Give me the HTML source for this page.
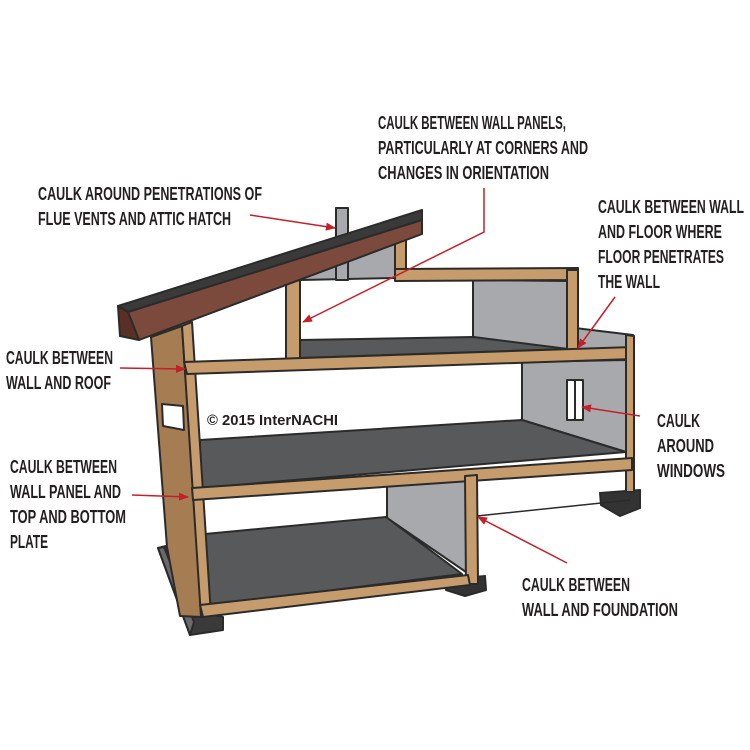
<!DOCTYPE html>
<html><head><meta charset="utf-8"><style>
html,body{margin:0;padding:0;background:#fff}
svg{display:block}
text{font-family:"Liberation Sans Narrow","Liberation Sans",sans-serif;font-size:18.5px;fill:#231f20;font-weight:bold}
</style></head><body>
<svg width="750" height="750" viewBox="0 0 750 750" xmlns="http://www.w3.org/2000/svg">
<defs><marker id="a" markerWidth="10" markerHeight="8" refX="9" refY="4" orient="auto" markerUnits="userSpaceOnUse"><path d="M0,0 L10,4 L0,8 Z" fill="#c4202a"/></marker></defs>
<g stroke="#2b2b2b" stroke-width="2" stroke-linejoin="round">
<polygon points="158,548 170,545 200,612 223,617 223,630 190,635" fill="#3a3a3a"/>
<polygon points="158,548 164,547 194,622 190,635" fill="#6a6a6a"/>
<polygon points="445,580 485,576 486,590 465,596 446,590" fill="#333"/>
<polygon points="600,493 640,490 640,508 620,516 601,505" fill="#333"/>
<polygon points="336,240 395,228 395,278 300,280" fill="#a7a9ac"/>
<polygon points="473,280 568,281 568,350 473,337" fill="#a7a9ac"/>
<polygon points="575,328 633,335 633,348 575,350" fill="#a7a9ac"/>
<polygon points="522,362 626,360 626,452 522,420" fill="#a7a9ac"/>
<polygon points="387,482 466,476 466,572 387,518" fill="#a7a9ac"/>
<polygon points="300,340 473,337 568,349 300,358" fill="#58595b"/>
<polygon points="200,440 522,420 626,452 200,488" fill="#58595b"/>
<polygon points="205,534 386,517 462,574 205,606" fill="#58595b"/>
<rect x="336" y="208" width="12" height="72" fill="#a7a9ac"/>
<polygon points="151,337 182,326 202,617 180,616 167,547" fill="#a67c52"/>
<g fill="#c69c6d">
<polygon points="182,326 192,322 211,615 201,617"/>
<polygon points="395,240 406,236 406,274 395,274"/>
<polygon points="395,269 578,268 578,280 395,281"/>
<polygon points="567,270 578,270 578,350 567,350"/>
<polygon points="286,283 300,280 300,360 286,360"/>
<polygon points="184,362 633,347 633,359 187,374"/>
<polygon points="626,335 634,336 634,492 626,492"/>
<polygon points="192,488 632,458 632,470 193,500"/>
<polygon points="465,476 477,475 478,584 466,584"/>
<polygon points="200,605 468,575 470,585 203,617"/>
</g>
<line x1="477" y1="516" x2="630" y2="500" stroke-width="1.5"/>
<polygon points="162,404 183,406 184,430 163,426" fill="#fff"/>
<rect x="567" y="380" width="16" height="40" fill="#fff"/>
<line x1="575" y1="380" x2="575" y2="420"/>
<polygon points="118,306 422,210 422,220 128,312" fill="#3a3a3a"/>
<polygon points="128,312 422,220 422,234 139,340" fill="#7b4a3c"/>
<polygon points="118,306 128,312 139,340 120,336" fill="#5a3025"/>
</g>
<text x="207" y="425" textLength="131" lengthAdjust="spacingAndGlyphs" style="font-size:15px">© 2015 InterNACHI</text>
<g stroke="#c4202a" stroke-width="1.5" fill="none" marker-end="url(#a)">
<line x1="250" y1="215" x2="335" y2="228"/>
<polyline points="484,188 484,232 303,322"/>
<line x1="615" y1="297" x2="578" y2="348"/>
<line x1="120" y1="368" x2="185" y2="369"/>
<line x1="132" y1="495" x2="188" y2="497"/>
<line x1="640" y1="416" x2="582" y2="407"/>
<line x1="567" y1="563" x2="478" y2="517"/>
</g>
<g>
<text x="38" y="200" textLength="224" lengthAdjust="spacingAndGlyphs">CAULK AROUND PENETRATIONS OF</text>
<text x="38" y="225" textLength="193" lengthAdjust="spacingAndGlyphs">FLUE VENTS AND ATTIC HATCH</text>
<text x="378" y="129" textLength="188" lengthAdjust="spacingAndGlyphs">CAULK BETWEEN WALL PANELS,</text>
<text x="378" y="154" textLength="210" lengthAdjust="spacingAndGlyphs">PARTICULARLY AT CORNERS AND</text>
<text x="378" y="179" textLength="171" lengthAdjust="spacingAndGlyphs">CHANGES IN ORIENTATION</text>
<text x="598" y="213" textLength="146" lengthAdjust="spacingAndGlyphs">CAULK BETWEEN WALL</text>
<text x="598" y="238" textLength="124" lengthAdjust="spacingAndGlyphs">AND FLOOR WHERE</text>
<text x="598" y="263" textLength="126" lengthAdjust="spacingAndGlyphs">FLOOR PENETRATES</text>
<text x="598" y="288" textLength="62" lengthAdjust="spacingAndGlyphs">THE WALL</text>
<text x="6" y="364" textLength="107" lengthAdjust="spacingAndGlyphs">CAULK BETWEEN</text>
<text x="6" y="389" textLength="105" lengthAdjust="spacingAndGlyphs">WALL AND ROOF</text>
<text x="10" y="473" textLength="107" lengthAdjust="spacingAndGlyphs">CAULK BETWEEN</text>
<text x="10" y="498" textLength="111" lengthAdjust="spacingAndGlyphs">WALL PANEL AND</text>
<text x="10" y="523" textLength="116" lengthAdjust="spacingAndGlyphs">TOP AND BOTTOM</text>
<text x="10" y="548" textLength="38" lengthAdjust="spacingAndGlyphs">PLATE</text>
<text x="657" y="427" textLength="43" lengthAdjust="spacingAndGlyphs">CAULK</text>
<text x="657" y="452" textLength="57" lengthAdjust="spacingAndGlyphs">AROUND</text>
<text x="657" y="477" textLength="68" lengthAdjust="spacingAndGlyphs">WINDOWS</text>
<text x="522" y="591" textLength="108" lengthAdjust="spacingAndGlyphs">CAULK BETWEEN</text>
<text x="522" y="616" textLength="156" lengthAdjust="spacingAndGlyphs">WALL AND FOUNDATION</text>
</g>
</svg>
</body></html>
